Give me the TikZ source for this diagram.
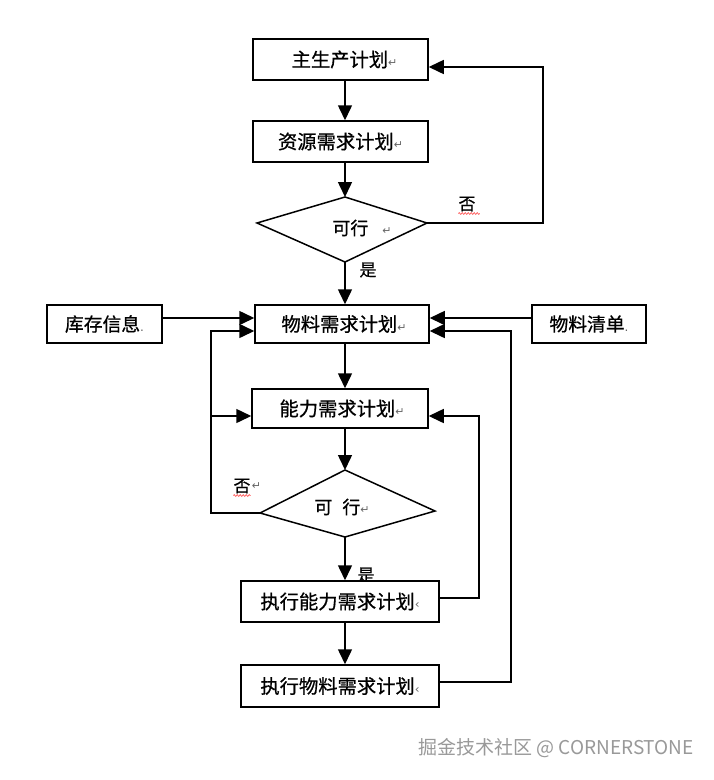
\documentclass[tikz,border=0pt]{standalone}
\usepackage{fontspec}
\setmainfont{Noto Sans CJK SC}[FakeBold=0.7]
\newfontfamily\plainfont{Noto Sans CJK SC}
\newfontfamily\dejavu{DejaVu Sans}
\usetikzlibrary{arrows.meta,decorations.pathmorphing}
\newcommand\retmark{{\dejavu\fontsize{11}{11}\selectfont\color{black!60}↵}}
\newcommand\dotmark{{\dejavu\fontsize{12}{12}\selectfont\color{black!60}.}}
\newcommand\hookmark{{\dejavu\fontsize{12}{12}\selectfont\color{black!60}‹}}
\begin{document}
\begin{tikzpicture}[x=1pt,y=-1pt,
  box/.style={draw,line width=1.5pt,fill=white,inner sep=0pt,font=\fontsize{19.3}{21}\selectfont},
  conn/.style={line width=1.5pt},
  arr/.style={conn,-{Triangle[width=14pt,length=15pt]}},
  lbl/.style={font=\fontsize{17}{19}\selectfont,inner sep=0pt},
  wavy/.style={draw=red!65,line width=0.7pt,decorate,decoration={snake,amplitude=0.9pt,segment length=3pt}},
]
\useasboundingbox[fill=white] (0,0) rectangle (714,780);

% helper coordinates
\coordinate (xm) at (345,0);
\coordinate (xl) at (211,0);
\coordinate (xr1) at (479,0);
\coordinate (xr2) at (511,0);
\coordinate (xt) at (543,0);
\coordinate (yd) at (0,67);
\coordinate (ya) at (0,318);
\coordinate (yb) at (0,331);
\coordinate (yc) at (0,416);
\coordinate (ye) at (0,598);
\coordinate (yf) at (0,682);

% label drawn first so that the box covers it
\node[lbl] (yes2) at (366,575) {是};

% boxes
\node[box,minimum width=175pt,minimum height=41pt] (mps) at (340.5,59.5) {\hspace{8pt}主生产计划\retmark};
\node[box,minimum width=175pt,minimum height=41pt] (rrp) at (340.5,141.5) {资源需求计划\retmark};
\node[box,minimum width=174pt,minimum height=38pt] (mrp) at (342,324) {\hspace{4pt}物料需求计划\retmark};
\node[box,minimum width=115pt,minimum height=38pt,font=\fontsize{18.8}{20}\selectfont] (inv) at (104.5,324) {库存信息\dotmark};
\node[box,minimum width=114pt,minimum height=38pt,font=\fontsize{18.8}{20}\selectfont] (bom) at (589,324) {物料清单\dotmark};
\node[box,minimum width=176pt,minimum height=39pt] (crp) at (340,408.5) {\hspace{4pt}能力需求计划\retmark};
\node[box,minimum width=198pt,minimum height=41pt] (ecrp) at (340,601.5) {执行能力需求计划\hookmark};
\node[box,minimum width=198pt,minimum height=42pt] (emrp) at (340,686) {执行物料需求计划\hookmark};

% diamonds
\coordinate (d1t) at (345,197);
\coordinate (d1r) at (427,223);
\coordinate (d1b) at (345,262);
\coordinate (d1l) at (257,223);
\draw[line width=1.5pt,line join=miter] (d1t) -- (d1r) -- (d1b) -- (d1l) -- cycle;
\node[lbl,font=\fontsize{18}{20}\selectfont] (d1) at (362,228) {可行\hspace{14pt}\retmark};

\coordinate (d2t) at (345,470);
\coordinate (d2r) at (435,511);
\coordinate (d2b) at (345,537);
\coordinate (d2l) at (260,513);
\draw[line width=1.5pt,line join=miter] (d2t) -- (d2r) -- (d2b) -- (d2l) -- cycle;
\node[lbl,font=\fontsize{18}{20}\selectfont] (d2) at (342,507) {可\hspace{10pt}行\retmark};

% labels
\node[lbl] (no1) at (467,204) {否};
\draw[wavy] ([yshift=-2pt]no1.south west) -- ([yshift=-2pt,xshift=4pt]no1.south east);
\node[lbl] (yes1) at (368,270) {是};
\node[lbl,label={[inner sep=0pt,xshift=1pt]east:\retmark}] (no2) at (242,486) {否};
\draw[wavy] ([yshift=-2pt]no2.south west) -- ([yshift=-2pt]no2.south east);

% connectors
\draw[arr] (mps.south -| xm) -- (rrp.north -| xm);
\draw[arr] (rrp.south -| xm) -- (d1t);
\draw[arr] (d1r) -- (d1r -| xt) -- (xt |- yd) -- (mps.east |- yd);
\draw[arr] (d1b) -- (mrp.north -| xm);
\draw[arr] (inv.east |- ya) -- (mrp.west |- ya);
\draw[arr] (bom.west |- ya) -- (mrp.east |- ya);
\draw[arr] (d2l) -- (d2l -| xl) -- (xl |- yb) -- (mrp.west |- yb);
\draw[arr] (xl |- yc) -- (crp.west |- yc);
\draw[arr] (mrp.south -| xm) -- (crp.north -| xm);
\draw[arr] (crp.south -| xm) -- (d2t);
\draw[arr] (d2b) -- (ecrp.north -| xm);
\draw[arr] (ecrp.east |- ye) -- (xr1 |- ye) -- (xr1 |- yc) -- (crp.east |- yc);
\draw[arr] (ecrp.south -| xm) -- (emrp.north -| xm);
\draw[arr] (emrp.east |- yf) -- (xr2 |- yf) -- (xr2 |- yb) -- (mrp.east |- yb);

% watermark
\node[anchor=east,inner sep=0pt,text=black!40,font=\plainfont\fontsize{19}{21}\selectfont] (wm) at (694,748) {掘金技术社区 @ CORNERSTONE};
\end{tikzpicture}
\end{document}
